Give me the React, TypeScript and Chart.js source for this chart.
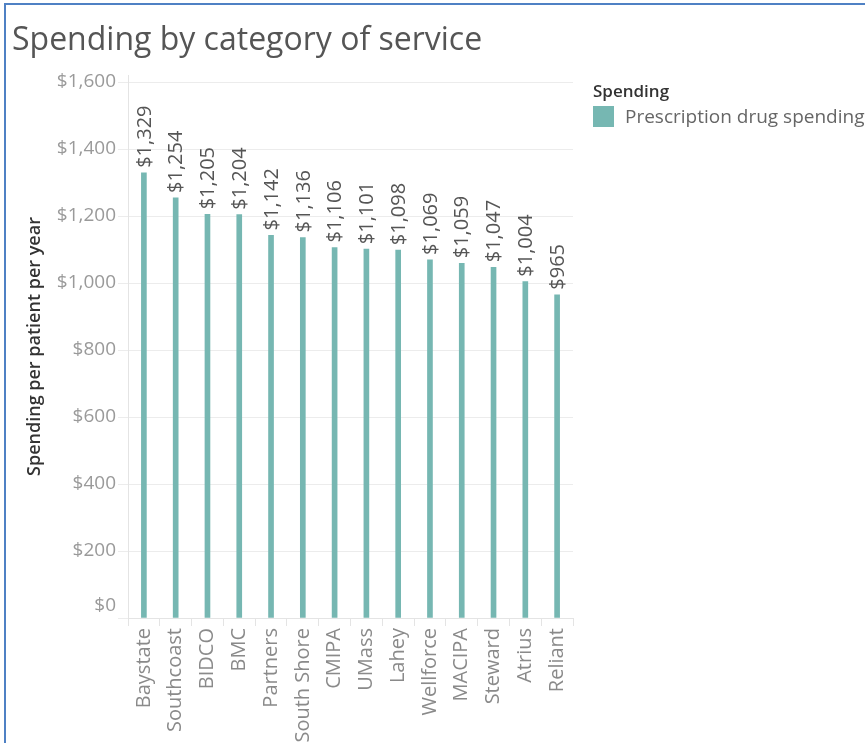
import React, { useEffect, useRef } from "react";
import { Chart, registerables } from "chart.js";

Chart.register(...registerables);

const categories = [
  "Baystate", "Southcoast", "BIDCO", "BMC", "Partners", "South Shore", "CMIPA",
  "UMass", "Lahey", "Wellforce", "MACIPA", "Steward", "Atrius", "Reliant",
];
const prescriptionSpending = [1329, 1254, 1205, 1204, 1142, 1136, 1106, 1101, 1098, 1069, 1059, 1047, 1004, 965];
const yTickValues = [0, 200, 400, 600, 800, 1000, 1200, 1400, 1600];
const seriesName = "Prescription drug spending";
const legendTitle = "Spending";
const chartTitle = "Spending by category of service";
const yAxisTitle = "Spending per patient per year";
const yMin = 0;
const yMax = 1621;

const BAR_COLOR = "#76b7b2";
const FONT = "'Open Sans', 'Noto Sans', sans-serif";

const fmt = (v: number) => "$" + v.toLocaleString("en-US");

const dataLabelPlugin = {
  id: "dataLabels",
  afterDatasetsDraw(chart: any) {
    const ctx = chart.ctx;
    const meta = chart.getDatasetMeta(0);
    const ds = chart.data.datasets[0];
    ctx.save();
    ctx.font = `20px ${FONT}`;
    ctx.fillStyle = "#555555";
    ctx.textAlign = "left";
    ctx.textBaseline = "middle";
    meta.data.forEach((bar: any, i: number) => {
      ctx.save();
      ctx.translate(bar.x, bar.y - 5);
      ctx.rotate(-Math.PI / 2);
      ctx.fillText(fmt(ds.data[i]), 0, 1);
      ctx.restore();
    });
    ctx.restore();
  },
};

const zeroLabelPlugin = {
  id: "zeroLabel",
  afterDraw(chart: any) {
    const ctx = chart.ctx;
    const y = chart.scales.y;
    const py = y.getPixelForValue(0);
    ctx.save();
    ctx.font = `19px ${FONT}`;
    ctx.fillStyle = "#9a9a9a";
    ctx.textAlign = "right";
    ctx.textBaseline = "middle";
    ctx.fillText(fmt(0), chart.chartArea.left - 12, py - 12);
    ctx.restore();
  },
};

export default function App() {
  const canvasRef = useRef<HTMLCanvasElement | null>(null);

  useEffect(() => {
    if (!canvasRef.current) return;
    const chart = new Chart(canvasRef.current, {
      type: "bar",
      data: {
        labels: categories,
        datasets: [
          {
            label: seriesName,
            data: prescriptionSpending,
            backgroundColor: BAR_COLOR,
            barThickness: 5,
          },
        ],
      },
      options: {
        responsive: false,
        animation: false,
        devicePixelRatio: 1,
        layout: { padding: { left: 20, right: 292, top: 75, bottom: 0 } },
        plugins: {
          legend: { display: false },
          title: { display: false },
          tooltip: { enabled: false },
        },
        scales: {
          x: {
            offset: true,
            grid: {
              offset: true,
              drawOnChartArea: false,
              drawTicks: true,
              tickLength: 8,
              color: "#e4e4e4",
            },
            border: { display: true, color: "#e4e4e4" },
            ticks: {
              autoSkip: false,
              minRotation: 90,
              maxRotation: 90,
              padding: 2,
              color: "#8a8a8a",
              font: { family: FONT, size: 20 },
            },
            afterFit: (s: any) => {
              s.height = 125;
            },
          },
          y: {
            min: yMin,
            max: yMax,
            grid: {
              color: "#ececec",
              tickLength: 10,
              drawTicks: true,
            },
            border: { display: true, color: "#e4e4e4" },
            ticks: {
              padding: 2,
              color: "#9a9a9a",
              font: { family: FONT, size: 19 },
              callback: (v: any) => (Number(v) === 0 ? "" : fmt(Number(v))),
            },
            afterBuildTicks: (s: any) => {
              s.ticks = yTickValues.map((v) => ({ value: v }));
            },
            title: {
              display: true,
              text: yAxisTitle,
              color: "#333333",
              font: { family: FONT, size: 18, weight: "600" },
              padding: { top: 4, bottom: 4 },
            },
            afterFit: (s: any) => {
              s.width = 108;
            },
          },
        },
      },
      plugins: [dataLabelPlugin, zeroLabelPlugin],
    } as any);
    return () => chart.destroy();
  }, []);

  return (
    <div
      style={{
        position: "absolute",
        left: 0,
        top: 0,
        width: 865,
        height: 743,
        overflow: "hidden",
        background: "#ffffff",
        fontFamily: FONT,
      }}
    >
      <div
        style={{
          position: "absolute",
          left: 4,
          top: 3,
          right: -10,
          bottom: -10,
          borderTop: "2px solid #4f81c4",
          borderLeft: "2px solid #4f81c4",
        }}
      />
      <canvas
        ref={canvasRef}
        width={865}
        height={743}
        style={{ position: "absolute", left: 0, top: 0, width: 865, height: 743, display: "block" }}
      />
      <div
        style={{
          position: "absolute",
          left: 12,
          top: 18,
          fontSize: 32,
          lineHeight: "40px",
          color: "#555555",
          whiteSpace: "nowrap",
        }}
      >
        {chartTitle}
      </div>
      <div
        style={{
          position: "absolute",
          left: 593,
          top: 80,
          fontSize: 17,
          fontWeight: 600,
          lineHeight: "22px",
          color: "#333333",
          whiteSpace: "nowrap",
        }}
      >
        {legendTitle}
      </div>
      <div
        style={{
          position: "absolute",
          left: 593,
          top: 106,
          width: 21,
          height: 21,
          background: BAR_COLOR,
        }}
      />
      <div
        style={{
          position: "absolute",
          left: 625,
          top: 104,
          fontSize: 19,
          lineHeight: "25px",
          color: "#666666",
          whiteSpace: "nowrap",
        }}
      >
        {seriesName}
      </div>
    </div>
  );
}
